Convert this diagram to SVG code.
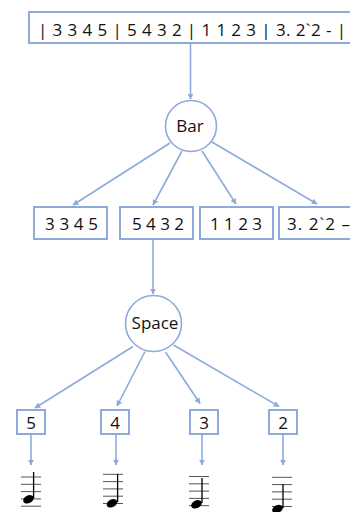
<svg xmlns="http://www.w3.org/2000/svg" width="350" height="512" viewBox="0 0 350 512">
<style>
.box{fill:#fff;stroke:#8eaadb;stroke-width:2}
.circ{fill:#fff;stroke:#8eaadb;stroke-width:1.6}
.t{font-family:"Open Sans","Liberation Sans",sans-serif;font-size:17px;fill:#111;text-anchor:middle}
.c{stroke:#8eaadb;stroke-width:1.6;fill:none;marker-end:url(#ah)}
.staff{stroke:#555;stroke-width:1}
.stem{stroke:#000;stroke-width:1.3}
</style>
<defs>
<marker id="ah" viewBox="0 0 10 10" refX="9" refY="5" markerWidth="6" markerHeight="6" orient="auto" markerUnits="userSpaceOnUse">
<path d="M0,0 L10,5 L0,10 z" fill="#8eaadb"/>
</marker>
<g id="staff5">
<line class="staff" x1="0" y1="0" x2="20" y2="0"/>
<line class="staff" x1="0" y1="7.3" x2="20" y2="7.3" stroke="#888"/>
<line class="staff" x1="0" y1="14.6" x2="20" y2="14.6"/>
<line class="staff" x1="0" y1="21.9" x2="20" y2="21.9"/>
<line class="staff" x1="0" y1="29.2" x2="20" y2="29.2" stroke="#888"/>
</g>
</defs>
<g id="connectors">
<line class="c" x1="190.5" y1="43" x2="190.5" y2="99"/>
<line class="c" x1="170" y1="143" x2="73" y2="205"/>
<line class="c" x1="182" y1="151" x2="153" y2="205"/>
<line class="c" x1="202" y1="151" x2="236" y2="204"/>
<line class="c" x1="212" y1="142" x2="317" y2="204"/>
<line class="c" x1="153" y1="240" x2="153" y2="294"/>
<line class="c" x1="133" y1="346.5" x2="35" y2="408"/>
<line class="c" x1="145" y1="351.5" x2="117" y2="406"/>
<line class="c" x1="165.5" y1="352" x2="200" y2="403.5"/>
<line class="c" x1="173.5" y1="345" x2="279" y2="406.5"/>
<line class="c" x1="31" y1="434" x2="31" y2="465"/>
<line class="c" x1="116" y1="434" x2="116" y2="465"/>
<line class="c" x1="202" y1="434" x2="202" y2="465"/>
<line class="c" x1="283" y1="434" x2="283" y2="465"/>
</g>
<g id="score">
<rect class="box" x="29" y="12" width="330" height="31"/>
<text class="t" x="192" y="35.5" textLength="308" lengthAdjust="spacing">| 3 3 4 5  | 5 4 3 2 | 1 1 2 3 | 3. 2`2 - |</text>
</g>
<g id="bar">
<circle class="circ" cx="191" cy="126" r="25.5"/>
<text class="t" x="190" y="132">Bar</text>
</g>
<g id="m1">
<rect class="box" x="34" y="207" width="73" height="32"/>
<text class="t" x="71.5" y="230" textLength="53" lengthAdjust="spacing">3 3 4 5</text>
</g>
<g id="m2">
<rect class="box" x="120" y="207" width="73" height="32"/>
<text class="t" x="158" y="230" textLength="52" lengthAdjust="spacing">5 4 3 2</text>
</g>
<g id="m3">
<rect class="box" x="200" y="207" width="73" height="32"/>
<text class="t" x="236" y="230" textLength="52" lengthAdjust="spacing">1 1 2 3</text>
</g>
<g id="m4">
<rect class="box" x="279" y="207" width="80" height="32"/>
<text x="287" y="230" font-family="Open Sans, Liberation Sans, sans-serif" font-size="17" fill="#111" textLength="63" lengthAdjust="spacing">3. 2`2 –</text>
</g>
<g id="space">
<circle class="circ" cx="153.5" cy="323.5" r="28"/>
<text class="t" x="155" y="328.5">Space</text>
</g>
<g id="n5">
<rect class="box" x="17" y="410" width="28" height="24"/>
<text class="t" x="31" y="428.5">5</text>
</g>
<g id="n4">
<rect class="box" x="101" y="410" width="28" height="24"/>
<text class="t" x="115" y="428.5">4</text>
</g>
<g id="n3">
<rect class="box" x="190" y="410" width="28" height="24"/>
<text class="t" x="204" y="428.5">3</text>
</g>
<g id="n2">
<rect class="box" x="269" y="410" width="28" height="24"/>
<text class="t" x="283" y="428.5">2</text>
</g>
<g id="note5">
<use href="#staff5" x="21" y="477"/>
<line class="stem" x1="33.6" y1="472" x2="33.6" y2="498"/>
<ellipse cx="28.5" cy="499.3" rx="5.6" ry="3.8" transform="rotate(-25 28.5 499.3)" fill="#000"/>
</g>
<g id="note4">
<use href="#staff5" x="103" y="474.3"/>
<line class="stem" x1="117.6" y1="474" x2="117.6" y2="502"/>
<ellipse cx="112" cy="503.3" rx="5.6" ry="3.8" transform="rotate(-25 112 503.3)" fill="#000"/>
</g>
<g id="note3">
<use href="#staff5" x="189" y="476.5"/>
<line class="stem" x1="202" y1="478" x2="202" y2="503"/>
<ellipse cx="196.5" cy="504.3" rx="5.6" ry="3.8" transform="rotate(-25 196.5 504.3)" fill="#000"/>
</g>
<g id="note2">
<use href="#staff5" x="272" y="477.3"/>
<line class="stem" x1="283" y1="484" x2="283" y2="508"/>
<ellipse cx="277.5" cy="509" rx="5.6" ry="3.8" transform="rotate(-25 277.5 509)" fill="#000"/>
</g>
</svg>
